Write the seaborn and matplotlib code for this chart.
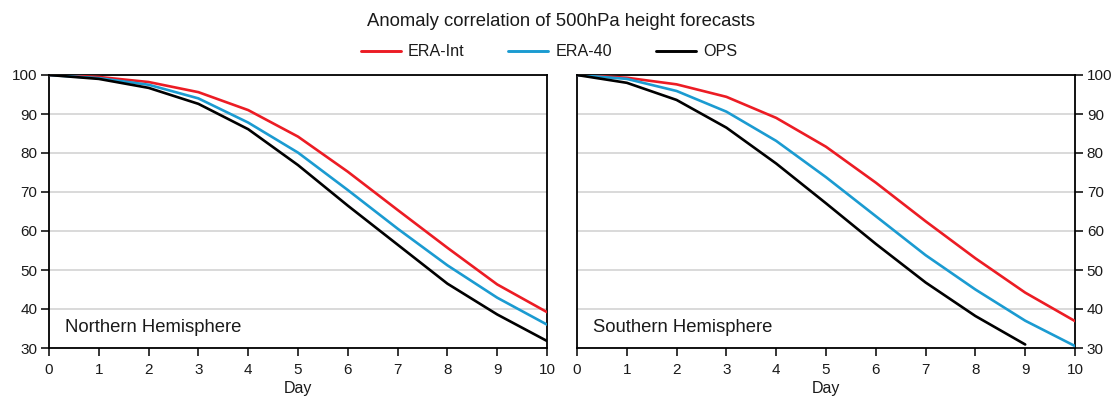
import numpy as np
import pandas as pd
import matplotlib
matplotlib.use("Agg")
import matplotlib.pyplot as plt
import seaborn as sns
from matplotlib.lines import Line2D

days = list(range(11))
nh_era_int = [100, 99.5, 98.2, 95.6, 91.0, 84.2, 75.2, 65.4, 55.7, 46.3, 39.2]
nh_era_40 = [100, 99.2, 97.5, 94.0, 87.8, 80.1, 70.5, 60.6, 51.2, 42.9, 36.0]
nh_ops = [100, 99.0, 96.7, 92.6, 86.1, 76.9, 66.5, 56.5, 46.5, 38.6, 31.8]
sh_era_int = [100, 99.3, 97.6, 94.4, 89.0, 81.6, 72.4, 62.5, 53.0, 44.2, 36.9]
sh_era_40 = [100, 99.0, 95.9, 90.6, 83.1, 73.8, 63.8, 53.8, 45.0, 37.0, 30.5]
sh_ops = [100, 98.0, 93.6, 86.5, 77.3, 67.1, 56.7, 46.8, 38.2, 30.9]

series_names = ["ERA-Int", "ERA-40", "OPS"]
colors = {"ERA-Int": "#ec1c24", "ERA-40": "#1b9bd1", "OPS": "#000000"}
panel_titles = ["Northern Hemisphere", "Southern Hemisphere"]
yticks = [30, 40, 50, 60, 70, 80, 90, 100]


def long_df(vals):
    rows = []
    for name, v in zip(series_names, vals):
        for d, y in zip(days, v):
            rows.append({"Day": d, "AC": y, "Series": name})
    return pd.DataFrame(rows)


nh = long_df([nh_era_int, nh_era_40, nh_ops])
sh = long_df([sh_era_int, sh_era_40, sh_ops])

sns.set_style("white")
plt.rcParams["font.family"] = ["Liberation Sans", "DejaVu Sans"]
plt.rcParams["text.color"] = "#1a1a1a"
plt.rcParams["xtick.color"] = "black"
plt.rcParams["ytick.color"] = "black"
plt.rcParams["xtick.labelcolor"] = "#1a1a1a"
plt.rcParams["ytick.labelcolor"] = "#1a1a1a"
plt.rcParams["axes.labelcolor"] = "#1a1a1a"

fig = plt.figure(figsize=(11.15, 3.99), dpi=100)
ax1 = fig.add_axes([49 / 1115, 1 - 348 / 399, 498 / 1115, 273 / 399])
ax2 = fig.add_axes([577 / 1115, 1 - 348 / 399, 498 / 1115, 273 / 399])

for ax, df, title in [(ax1, nh, panel_titles[0]), (ax2, sh, panel_titles[1])]:
    sns.lineplot(data=df, x="Day", y="AC", hue="Series", palette=colors,
                 hue_order=series_names, linewidth=1.9, ax=ax, legend=False,
                 zorder=3)
    ax.set_xlim(0, 10)
    ax.set_ylim(30, 100)
    ax.set_xticks(days)
    ax.set_yticks(yticks)
    ax.yaxis.grid(True, color="#cfcfcf", linewidth=1.1)
    ax.xaxis.grid(False)
    ax.set_axisbelow(True)
    for s in ax.spines.values():
        s.set_visible(True)
        s.set_color("black")
        s.set_linewidth(1.3)
    ax.tick_params(axis="both", direction="out", length=5.5, width=1.1,
                   labelsize=11)
    ax.tick_params(axis="x", pad=5, bottom=True, top=False)
    ax.tick_params(axis="y", pad=3)
    ax.set_xlabel("Day", fontsize=11.5, labelpad=3)
    ax.set_ylabel("")
    ax.text(0.032, 0.075, title, transform=ax.transAxes, fontsize=13.3,
            ha="left", va="center")

ax1.tick_params(axis="y", left=True, right=False, labelleft=True, labelright=False)
ax2.yaxis.tick_right()
ax2.tick_params(axis="y", left=False, right=True, labelleft=False, labelright=True)

fig.text(561 / 1115, 1 - 22 / 399, "Anomaly correlation of 500hPa height forecasts",
         ha="center", va="center", fontsize=13.3)

handles = [Line2D([], [], color=colors[n], linewidth=2.1) for n in series_names]
fig.legend(handles, series_names, loc="center", bbox_to_anchor=(549 / 1115, 1 - 52 / 399),
           ncol=3, frameon=False, fontsize=11.6, handlelength=2.5,
           handletextpad=0.45, columnspacing=2.7)

fig.savefig("out.png", dpi=100)
